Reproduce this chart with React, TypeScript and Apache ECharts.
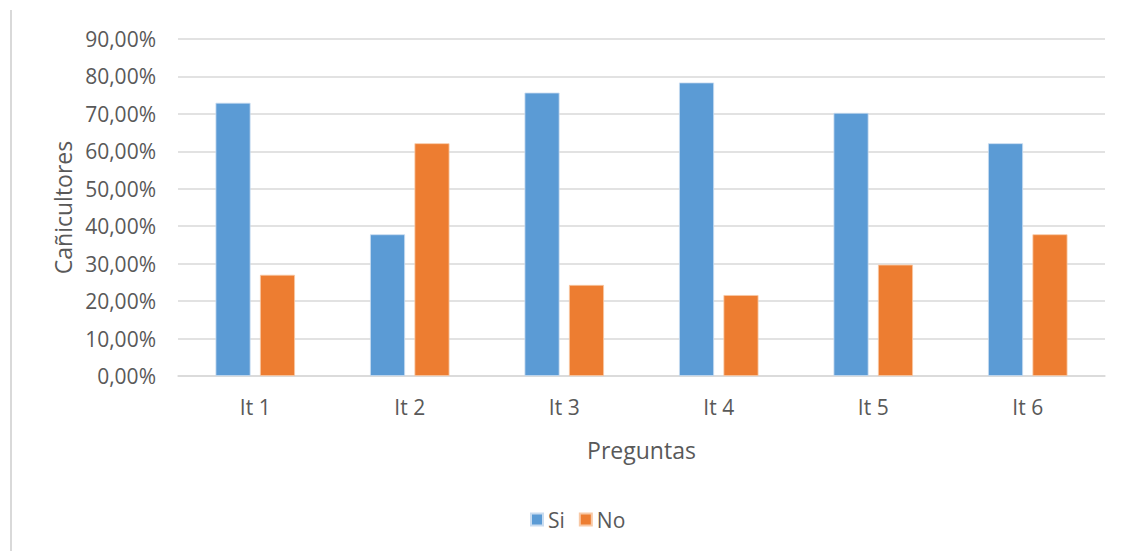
import React, { useEffect, useRef } from "react";
import * as echarts from "echarts";

const categories = ["It 1", "It 2", "It 3", "It 4", "It 5", "It 6"];
const siValues = [72.97, 37.84, 75.68, 78.38, 70.27, 62.16];
const noValues = [27.03, 62.16, 24.32, 21.62, 29.73, 37.84];
const seriesNames = ["Si", "No"];
const yAxisTitle = "Cañicultores";
const xAxisTitle = "Preguntas";

const FONT = "'Open Sans', 'Liberation Sans', sans-serif";
const TEXT = "#595959";
const GRID = "#d9d9d9";

export default function App() {
  const ref = useRef<HTMLDivElement>(null);
  useEffect(() => {
    if (!ref.current) return;
    const chart = echarts.init(ref.current, undefined, { renderer: "svg" });
    chart.setOption({
      animation: false,
      backgroundColor: "#ffffff",
      textStyle: { fontFamily: FONT },
      graphic: [
        {
          type: "line",
          shape: { x1: 11, y1: 10, x2: 11, y2: 551 },
          style: { stroke: GRID, lineWidth: 2 },
        },
      ],
      grid: { left: 178, right: 17, top: 39, bottom: 175 },
      legend: {
        data: seriesNames,
        bottom: 16,
        left: 525,
        itemWidth: 12,
        itemHeight: 12,
        itemGap: 14,
        icon: "rect",
        textStyle: { color: TEXT, fontSize: 21, fontFamily: FONT, padding: [0, 0, 0, 0] },
      },
      xAxis: {
        type: "category",
        data: categories,
        name: xAxisTitle,
        nameLocation: "middle",
        nameGap: 62,
        nameTextStyle: { color: TEXT, fontSize: 23, fontFamily: FONT },
        axisLine: { lineStyle: { color: GRID, width: 1.5 } },
        axisTick: { show: false },
        axisLabel: { color: TEXT, fontSize: 21, margin: 20, fontFamily: FONT },
      },
      yAxis: {
        type: "value",
        min: 0,
        max: 90,
        interval: 10,
        name: yAxisTitle,
        nameLocation: "middle",
        nameGap: 95,
        nameTextStyle: { color: TEXT, fontSize: 23, fontFamily: FONT },
        axisLine: { show: false },
        axisTick: { show: false },
        splitLine: { lineStyle: { color: GRID, width: 1.5 } },
        axisLabel: {
          color: TEXT,
          fontSize: 21,
          margin: 22,
          fontFamily: FONT,
          formatter: (v: number) => v.toFixed(2).replace(".", ",") + "%",
        },
      },
      series: [
        {
          name: seriesNames[0],
          type: "bar",
          data: siValues,
          barWidth: 35,
          barGap: "27%",
          itemStyle: { color: "#5b9bd5", borderColor: "#c9dcf0", borderWidth: 0.8 },
        },
        {
          name: seriesNames[1],
          type: "bar",
          data: noValues,
          barWidth: 35,
          barGap: "27%",
          itemStyle: { color: "#ed7d31", borderColor: "#f8c9a6", borderWidth: 0.8 },
        },
      ],
    });
    return () => chart.dispose();
  }, []);
  return (
    <div
      ref={ref}
      style={{ position: "fixed", left: 0, top: 0, width: 1122, height: 551 }}
    />
  );
}
